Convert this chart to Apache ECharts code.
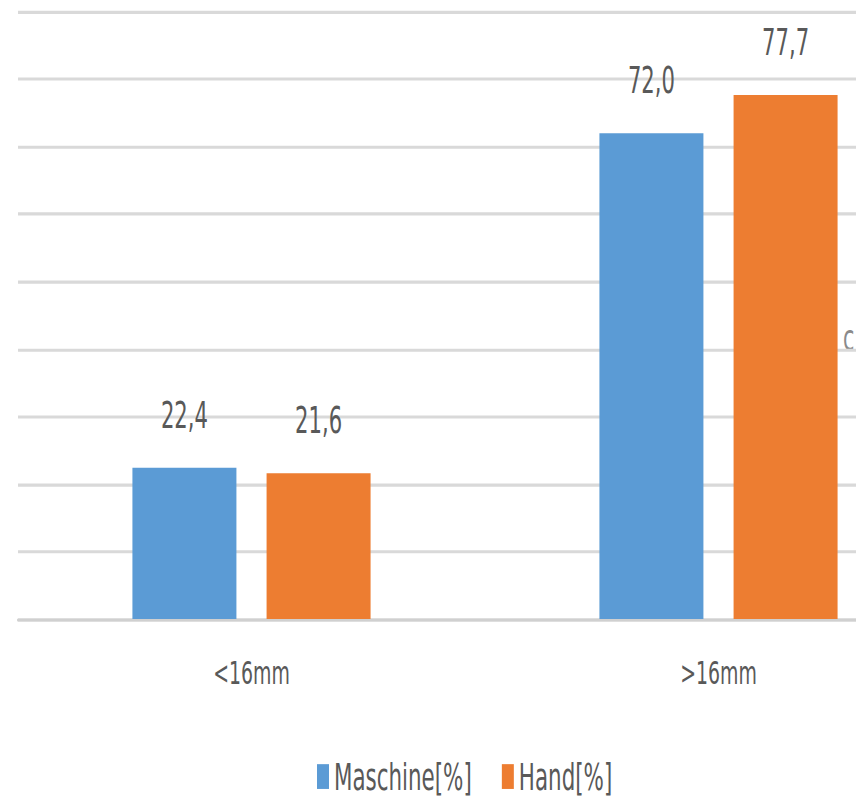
<!DOCTYPE html>
<html>
<head>
<meta charset="utf-8">
<style>
  html, body { margin: 0; padding: 0; background: #ffffff; overflow: hidden; }
  #wrap { width: 856px; height: 798px; overflow: hidden; }
  /* the chart is laid out on a shorter canvas and stretched vertically */
  #chart { width: 856px; height: 515px; transform: scaleY(1.55); transform-origin: 0 0; }
</style>
<script src="https://cdn.jsdelivr.net/npm/echarts@6/dist/echarts.min.js"></script>
</head>
<body>
<div id="wrap"><div id="chart"></div></div>
<script>
const categories = ['<16mm', '>16mm'];
const maschine = [22.4, 72.0];
const hand = [21.6, 77.7];
const seriesNames = ['Maschine[%]', 'Hand[%]'];

const FONT = '"DejaVu Sans Condensed", "Liberation Sans Narrow", sans-serif';
const TEXT = '#595959';

const chart = echarts.init(document.getElementById('chart'), null, { renderer: 'svg' });

const fmt = p => p.value.toFixed(1).replace('.', ',');

const valueLabel = {
  show: true,
  position: 'top',
  distance: 22,
  formatter: fmt,
  color: TEXT,
  fontFamily: FONT,
  fontSize: 23.5
};

chart.setOption({
  animation: false,
  // the plot runs on past the right edge, so only part of the second group's space is visible
  grid: {
    left: 18, width: 934, top: 7.7, height: 391.6,
    containLabel: false, outerBoundsMode: 'none'
  },
  legend: {
    data: seriesNames,
    left: 312,
    top: 484,
    itemWidth: 12,
    itemHeight: 16,
    itemGap: 30,
    icon: 'rect',
    textStyle: { color: TEXT, fontFamily: FONT, fontSize: 23.8, lineHeight: 20 }
  },
  xAxis: {
    type: 'category',
    data: categories,
    axisLine: { lineStyle: { color: '#d0d0d0', width: 2 } },
    axisTick: { show: false },
    axisLabel: { color: TEXT, fontFamily: FONT, fontSize: 21, margin: 24 }
  },
  yAxis: {
    type: 'value',
    min: 0,
    max: 90,
    interval: 10,
    axisLabel: { show: false },
    axisLine: { show: false },
    axisTick: { show: false },
    splitLine: { lineStyle: { color: '#d9d9d9', width: 2 } }
  },
  series: [
    {
      name: seriesNames[0],
      type: 'bar',
      data: maschine,
      barWidth: 104,
      barGap: '29%',
      itemStyle: { color: '#5B9BD5' },
      label: valueLabel
    },
    {
      name: seriesNames[1],
      type: 'bar',
      data: hand,
      barWidth: 104,
      itemStyle: { color: '#ED7D31' },
      label: valueLabel
    }
  ],
  graphic: [
    {
      type: 'text',
      left: 843,
      top: 206,
      style: { text: 'c', fill: '#8a8a8a', font: '23px ' + FONT }
    }
  ]
});
</script>
</body>
</html>
